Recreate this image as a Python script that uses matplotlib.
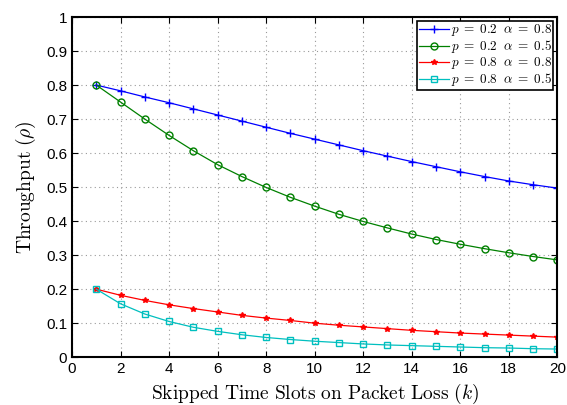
import matplotlib.pyplot as plt

plt.rcParams['mathtext.fontset'] = 'cm'
plt.rcParams['font.family'] = ['Liberation Sans', 'DejaVu Sans']

# Data
k = list(range(1, 21))
p02_a08 = [0.800, 0.783, 0.765, 0.748, 0.730, 0.712, 0.694, 0.676, 0.658, 0.641,
           0.624, 0.607, 0.591, 0.575, 0.560, 0.545, 0.531, 0.518, 0.507, 0.497]
p02_a05 = [0.800, 0.750, 0.700, 0.652, 0.607, 0.566, 0.531, 0.499, 0.470, 0.444,
           0.420, 0.399, 0.380, 0.362, 0.346, 0.332, 0.319, 0.307, 0.296, 0.286]
p08_a08 = [0.200, 0.182, 0.167, 0.154, 0.143, 0.133, 0.123, 0.115, 0.108, 0.100,
           0.094, 0.089, 0.084, 0.079, 0.075, 0.071, 0.068, 0.065, 0.062, 0.059]
p08_a05 = [0.200, 0.157, 0.127, 0.105, 0.088, 0.076, 0.066, 0.058, 0.052, 0.047,
           0.043, 0.039, 0.036, 0.034, 0.032, 0.030, 0.028, 0.027, 0.025, 0.024]

fig = plt.figure(figsize=(5.67, 4.05), dpi=100)
ax = fig.add_axes([0.127, 0.118, 0.856, 0.840])

ax.plot(k, p02_a08, color='blue', marker='+', markersize=6, lw=0.9,
        label=r'$p\;=\;0.2\ \ \alpha\;=\;0.8$')
ax.plot(k, p02_a05, color='green', marker='o', markersize=5, mfc='none', lw=0.9,
        label=r'$p\;=\;0.2\ \ \alpha\;=\;0.5$')
ax.plot(k, p08_a08, color='red', marker='*', markersize=4, lw=0.9,
        label=r'$p\;=\;0.8\ \ \alpha\;=\;0.8$')
ax.plot(k, p08_a05, color='c', marker='s', markersize=4.5, mfc='none', lw=0.9,
        label=r'$p\;=\;0.8\ \ \alpha\;=\;0.5$')

ax.set_xlim(0, 20)
ax.set_ylim(0, 1)
ax.set_xticks(range(0, 21, 2))
ax.set_yticks([i / 10 for i in range(11)])
ax.set_yticklabels(['0', '0.1', '0.2', '0.3', '0.4', '0.5', '0.6', '0.7', '0.8', '0.9', '1'])
ax.tick_params(direction='in', top=True, right=True, labelsize=11, length=4)
ax.grid(True, linestyle=(0, (1, 3)), color='#999999', linewidth=0.8)
for s in ax.spines.values():
    s.set_linewidth(1.5)

ax.set_xlabel(r'$\mathrm{Skipped\ Time\ Slots\ on\ Packet\ Loss}\ (k)$', fontsize=14)
ax.set_ylabel(r'$\mathrm{Throughput}\ (\rho)$', fontsize=14, labelpad=6)

leg = ax.legend(loc='upper right', fontsize=9.5, fancybox=False, framealpha=1,
                edgecolor='black', borderpad=0.1, labelspacing=0.0,
                handlelength=2.3, handletextpad=0.15, borderaxespad=0.3)
leg.get_frame().set_linewidth(1.2)

plt.savefig('out.png', dpi=100)
